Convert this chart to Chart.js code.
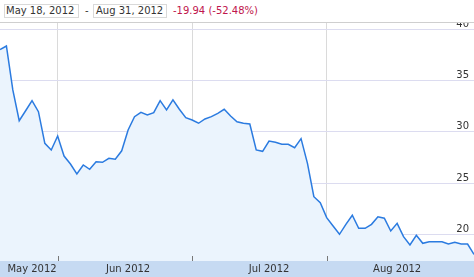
<!DOCTYPE html>
<html>
<head>
<meta charset="utf-8">
<script src="https://cdn.jsdelivr.net/npm/chart.js@4"></script>
<style>
  body { margin: 0; width: 474px; height: 277px; overflow: hidden; background: #fff;
         font-family: "DejaVu Sans", Verdana, sans-serif; font-size: 10px; color: #333; position: relative; }
  .box { position: absolute; top: 4px; height: 12px; line-height: 12px; padding: 0 1px; border: 1px solid #d9d9d9; white-space: nowrap; }
  .dash { position: absolute; left: 85px; top: 5px; line-height: 12px; }
  .chg { position: absolute; left: 173px; top: 5px; line-height: 12px; color: #c0154c; white-space: nowrap; }
  .wrap { position: absolute; left: 0; top: 22px; width: 474px; height: 254px; border-top: 1px solid #cfcfcf; }
</style>
</head>
<body>
<div class="box" style="left:4px;width:71px">May 18, 2012</div>
<div class="dash">-</div>
<div class="box" style="left:93px;width:69px;padding-left:2px">Aug 31, 2012</div>
<div class="chg">-19.94 (-52.48%)</div>
<div class="wrap"><canvas id="chart" width="474" height="254"></canvas></div>
<script>
const days = [
    'May 17', 'May 18', 'May 21', 'May 22', 'May 23', 'May 24', 'May 25', 'May 29', 'May 30', 'May 31',
    'Jun 1', 'Jun 4', 'Jun 5', 'Jun 6', 'Jun 7', 'Jun 8', 'Jun 11', 'Jun 12', 'Jun 13', 'Jun 14',
    'Jun 15', 'Jun 18', 'Jun 19', 'Jun 20', 'Jun 21', 'Jun 22', 'Jun 25', 'Jun 26', 'Jun 27', 'Jun 28',
    'Jun 29', 'Jul 2', 'Jul 3', 'Jul 5', 'Jul 6', 'Jul 9', 'Jul 10', 'Jul 11', 'Jul 12', 'Jul 13',
    'Jul 16', 'Jul 17', 'Jul 18', 'Jul 19', 'Jul 20', 'Jul 23', 'Jul 24', 'Jul 25', 'Jul 26', 'Jul 27',
    'Jul 30', 'Jul 31', 'Aug 1', 'Aug 2', 'Aug 3', 'Aug 6', 'Aug 7', 'Aug 8', 'Aug 9', 'Aug 10',
    'Aug 13', 'Aug 14', 'Aug 15', 'Aug 16', 'Aug 17', 'Aug 20', 'Aug 21', 'Aug 22', 'Aug 23', 'Aug 24',
    'Aug 27', 'Aug 28', 'Aug 29', 'Aug 30', 'Aug 31'
]

const price = [
    38.00, 38.35, 34.07, 31.08, 32.05, 33.03, 31.96, 28.88, 28.23, 29.59,
    27.64, 26.86, 25.89, 26.77, 26.35, 27.09, 27.03, 27.42, 27.32, 28.15,
    30.18, 31.47, 31.90, 31.64, 31.86, 33.03, 32.12, 33.10, 32.19, 31.37,
    31.15, 30.83, 31.25, 31.47, 31.80, 32.19, 31.54, 30.98, 30.83, 30.76,
    28.23, 28.10, 29.10, 28.98, 28.78, 28.78, 28.45, 29.33, 26.93, 23.68,
    23.10, 21.64, 20.83, 20.02, 20.99, 21.87, 20.60, 20.60, 20.99, 21.73,
    21.58, 20.34, 21.09, 19.79, 18.98, 19.92, 19.14, 19.30, 19.30, 19.30,
    19.07, 19.24, 19.07, 19.07, 18.06
]

// month grid lines sit on these points, labels roughly mid-month
const monthStarts = [9, 30, 51]
const monthLabelAt = [5, 20, 42, 62]
const monthLabels = ['May 2012', 'Jun 2012', 'Jul 2012', 'Aug 2012']
const yTicks = [20, 25, 30, 35, 40]

const tickFont = { family: 'DejaVu Sans', size: 10 }

const bandPlugin = {
    id: 'band',
    beforeDraw(chart) {
        const { ctx, chartArea, width, height } = chart
        ctx.save()
        ctx.fillStyle = '#c6daf2'
        ctx.fillRect(0, chartArea.bottom, width, height - chartArea.bottom)
        ctx.restore()
    },
    afterDatasetsDraw(chart) {
        const { ctx, chartArea, scales: { x } } = chart
        ctx.save()
        ctx.strokeStyle = '#777'
        ctx.lineWidth = 1
        monthStarts.forEach(i => {
            const px = Math.round(x.getPixelForValue(i)) + 0.5
            ctx.beginPath()
            ctx.moveTo(px, chartArea.bottom - 5)
            ctx.lineTo(px, chartArea.bottom)
            ctx.stroke()
        })
        ctx.restore()
    }
}

const ctx = document.getElementById('chart').getContext('2d')

new Chart(ctx, {
    type: 'line',
    data: {
        labels: days,
        datasets: [{
            data: price,
            borderColor: '#2b7be0',
            borderWidth: 1.5,
            backgroundColor: '#ebf4fd',
            fill: 'start',
            pointRadius: 0,
            tension: 0
        }]
    },
    options: {
        responsive: false,
        animation: false,
        devicePixelRatio: 1,
        layout: { padding: 0 },
        plugins: {
            legend: { display: false },
            tooltip: { enabled: false }
        },
        scales: {
            x: {
                grid: {
                    color: (c) => monthStarts.includes(c.index) ? '#dadada' : 'rgba(0,0,0,0)',
                    drawTicks: false
                },
                border: { display: false },
                ticks: {
                    autoSkip: false,
                    maxRotation: 0,
                    padding: 2,
                    color: '#333',
                    font: tickFont,
                    callback: (v, i) => {
                        const k = monthLabelAt.indexOf(i)
                        return k < 0 ? '' : monthLabels[k]
                    }
                },
                afterFit: (s) => { s.height = 16; s.paddingLeft = 0; s.paddingRight = 0 }
            },
            y: {
                position: 'right',
                min: 17.42,
                max: 40.59,
                afterBuildTicks: (s) => { s.ticks = yTicks.map(v => ({ value: v })) },
                grid: { color: '#dcdcf0', drawTicks: false },
                border: { display: false },
                ticks: {
                    mirror: true,
                    padding: -5,
                    labelOffset: -5,
                    color: '#333',
                    font: tickFont
                },
                afterFit: (s) => { s.width = 0; s.paddingTop = 0; s.paddingBottom = 0 }
            }
        }
    },
    plugins: [bandPlugin]
})
</script>
</body>
</html>
